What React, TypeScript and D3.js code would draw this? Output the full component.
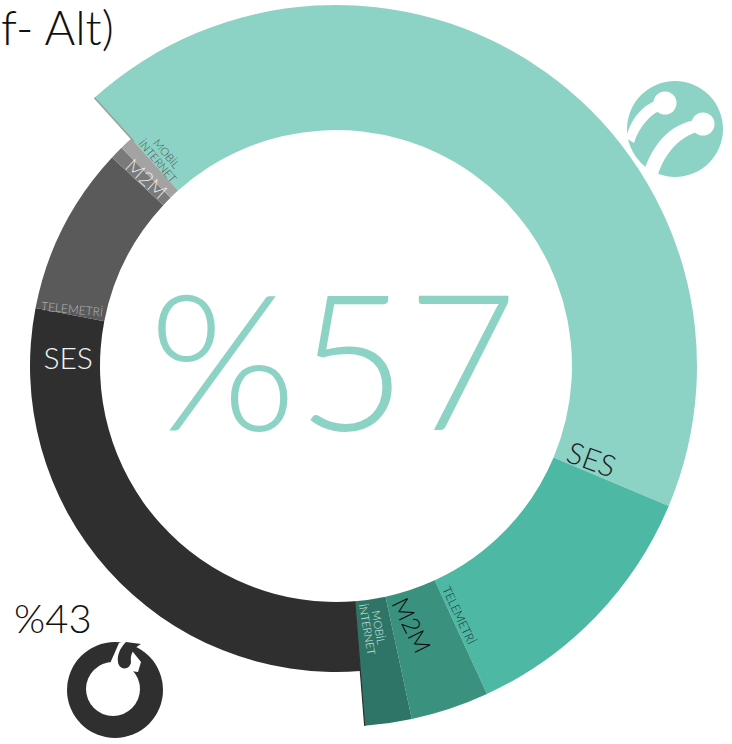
import React from 'react';
import * as d3 from 'd3';

const categories = ['SES', 'TELEMETRİ', 'M2M', 'MOBİL İNTERNET'];
const turkcellValues = [43.0, 11.8, 3.5, 2.1];
const vodafoneValues = [29.3, 8.9, 0.7, 0.7];
const shareLabels = ['%57', '%43'];
const titleText = 'f- Alt)';

const turkcellColors = ['#8dd3c5', '#4db8a4', '#3a917e', '#2e7567'];
const vodafoneColors = ['#2f2f2f', '#5a5a5a', '#7a7a7a', '#a3a3a3'];

const W = 732, H = 744;
const CX = 336, CY = 366;
const R_IN = 236, R_T = 361, R_V = 306;
const DEG = Math.PI / 180;
const FONT = "Lato, 'Open Sans', sans-serif";

// label layout: polar position (deg clockwise from top, radius), rotation, size, colour
const turkcellLabelStyle = [
  { a: 109.8, r: 272, rot: 20, size: 30, color: '#1e1e1e' },
  { a: 153.7, r: 278, rot: 65, size: 12, color: '#1d2d29' },
  { a: 163.6, r: 270, rot: 64, size: 24, color: '#0a0a0a' },
  { a: 171.9, r: 265, rot: 80, size: 11, color: '#d2ebe4' },
];
const vodafoneLabelStyle = [
  { a: 272, r: 268, rot: 0, size: 30, color: '#f4f4f4' },
  { a: 282.2, r: 270, rot: 6, size: 12, color: '#b8b8b8' },
  { a: 314.8, r: 266.6, rot: 42, size: 20, color: '#e8e8e8' },
  { a: 320.3, r: 271.6, rot: 50, size: 11, color: '#4f4f4f' },
];

type Slice = { op: 't' | 'v'; i: number; value: number };

const polar = (aDeg: number, r: number) => [
  CX + r * Math.sin(aDeg * DEG),
  CY - r * Math.cos(aDeg * DEG),
];

function Label({ text, s }: { text: string; s: any }) {
  const [x, y] = polar(s.a, s.r);
  const lines = text.split(' ');
  const lh = s.size * 1.05;
  return (
    <text
      transform={`translate(${x},${y}) rotate(${s.rot})`}
      textAnchor="middle"
      fontFamily={FONT}
      fontWeight={300}
      fontSize={s.size}
      fill={s.color}
    >
      {lines.map((l, k) => (
        <tspan key={k} x={0} y={(k - (lines.length - 1) / 2) * lh} dominantBaseline="central">
          {l}
        </tspan>
      ))}
    </text>
  );
}

export default function App() {
  const slices: Slice[] = [
    ...turkcellValues.map((value, i) => ({ op: 't' as const, i, value })),
    ...vodafoneValues.map((value, i) => ({ op: 'v' as const, i, value })),
  ];
  const pie = d3
    .pie<Slice>()
    .sort(null)
    .value((d) => d.value)
    .startAngle(-42 * DEG)
    .endAngle(318 * DEG);
  const arcs = pie(slices);
  const arcT = d3.arc<d3.PieArcDatum<Slice>>().innerRadius(R_IN).outerRadius(R_T);
  const arcV = d3.arc<d3.PieArcDatum<Slice>>().innerRadius(R_IN).outerRadius(R_V);

  const tFirst = arcs.find((a) => a.data.op === 't' && a.data.i === 0)!;
  const tLast = arcs.find((a) => a.data.op === 't' && a.data.i === 3)!;
  const edge = (ang: number, r0: number, r1: number) => {
    const p0 = [CX + r0 * Math.sin(ang), CY - r0 * Math.cos(ang)];
    const p1 = [CX + r1 * Math.sin(ang), CY - r1 * Math.cos(ang)];
    return { x1: p0[0], y1: p0[1], x2: p1[0], y2: p1[1] };
  };

  return (
    <svg width={W} height={H} style={{ position: 'absolute', left: 0, top: 0 }}>
      <rect width={W} height={H} fill="#ffffff" />
      <text x={1} y={45} textAnchor="start" fontFamily={FONT} fontWeight={300} fontSize={47} fill="#111">
        {titleText}
      </text>
      <g transform={`translate(${CX},${CY})`}>
        {arcs.map((a, k) => (
          <path
            key={k}
            d={(a.data.op === 't' ? arcT : arcV)(a) || ''}
            fill={a.data.op === 't' ? turkcellColors[a.data.i] : vodafoneColors[a.data.i]}
          />
        ))}
      </g>
      <line {...edge(tFirst.startAngle, R_V - 4, R_T)} stroke="#9c9c9c" strokeWidth={1.5} />
      <line {...edge(tLast.endAngle, R_IN, R_T)} stroke="#2f2f2f" strokeWidth={1.2} />
      {categories.map((c, i) => (
        <Label key={'t' + i} text={c} s={turkcellLabelStyle[i]} />
      ))}
      {categories.map((c, i) => (
        <Label key={'v' + i} text={c} s={vodafoneLabelStyle[i]} />
      ))}
      <text x={333} y={430} textAnchor="middle" fontFamily={FONT} fontWeight={300} fontSize={190} fill="#8dd3c5">
        {shareLabels[0]}
      </text>
      <text x={14} y={633} fontFamily={FONT} fontWeight={300} fontSize={40} fill="#111">
        {shareLabels[1]}
      </text>
      {/* Turkcell logo */}
      <g>
        <circle cx={675} cy={129} r={48} fill="#8dd3c5" />
        <path d="M664,98 C646,102 632,115 626,138 L634,143 C639,127 650,113 666,108 Z" fill="#fff" />
        <circle cx={665} cy={103} r={11.5} fill="#fff" />
        <path d="M702,119 C676,121 654,138 643,174 L657,178 C664,152 682,134 704,130 Z" fill="#fff" />
        <circle cx={703} cy={124} r={11.5} fill="#fff" />
      </g>
      {/* Vodafone logo */}
      <g>
        <circle cx={115} cy={690} r={48} fill="#2f2f2f" />
        <circle cx={113} cy={689} r={27} fill="#fff" />
        <path d="M108,668 L119,643 L125,641 L133,652 L141,662 L138,672 Z" fill="#fff" />
        <path d="M126,642 C120,648 117,655 118,662 A6.5,6.5 0 0 0 131,662 C130,655 133,648 141,644 Z" fill="#2f2f2f" />
      </g>
    </svg>
  );
}
